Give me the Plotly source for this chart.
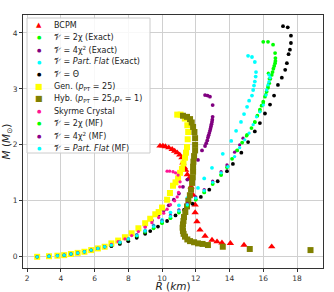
import plotly.graph_objects as go

# shared crust
crust_R = [2.6, 3.3, 3.8, 4.2, 4.6, 5.0, 5.4, 5.8, 6.2, 6.6]
crust_M = [0.0, 0.01, 0.02, 0.03, 0.05, 0.07, 0.09, 0.12, 0.15, 0.18]

bcpm_R = [9.88, 10.05, 10.2, 10.4, 10.6, 10.75, 10.9, 11.05, 11.18, 11.24, 11.32, 11.4, 11.5, 11.6, 11.72, 11.85,
          11.96, 11.96, 12.07, 12.25, 12.55, 12.96, 13.26, 13.55, 14.05, 14.86, 16.5]
bcpm_M = [1.98, 1.98, 1.97, 1.95, 1.92, 1.89, 1.86, 1.82, 1.77, 1.68, 1.6, 1.55, 1.47, 1.4, 1.25, 1.1,
          0.93, 0.79, 0.63, 0.48, 0.37, 0.3, 0.27, 0.25, 0.24, 0.21, 0.18]

chi2_R = [7.0, 7.5, 8.0, 8.5, 9.0, 9.5, 10.0, 10.5, 11.0, 11.5, 12.0, 12.5, 13.0, 13.5, 13.85, 14.15, 14.45, 14.75,
          15.04, 15.3, 15.5, 15.65, 15.8, 15.9, 16.0, 16.1, 16.2, 16.28, 16.35, 16.42, 16.5, 16.55, 16.6, 16.65,
          16.7, 16.72, 16.72, 16.7, 16.58, 16.28, 16.0]
chi2_M = [0.2, 0.25, 0.3, 0.36, 0.43, 0.51, 0.6, 0.69, 0.79, 0.9, 1.02, 1.15, 1.3, 1.46, 1.6, 1.75, 1.9, 2.04,
          2.18, 2.3, 2.41, 2.52, 2.63, 2.7, 2.77, 2.86, 2.95, 3.02, 3.1, 3.18, 3.25, 3.3, 3.36, 3.41,
          3.46, 3.5, 3.55, 3.64, 3.79, 3.84, 3.84]

chisq_R = [7.0, 7.4, 7.8, 8.2, 8.6, 9.0, 9.4, 9.8, 10.1, 10.4, 10.7, 11.0, 11.24, 11.5, 11.8, 12.13, 12.37, 12.55,
           12.62, 12.68, 12.72, 12.76, 12.8, 12.84, 12.87, 12.9, 12.93, 12.96, 12.98, 13.0, 13.0, 12.84, 12.7, 12.55]
chisq_M = [0.23, 0.28, 0.34, 0.41, 0.48, 0.56, 0.65, 0.75, 0.83, 0.92, 1.02, 1.13, 1.25, 1.38, 1.55, 1.73, 1.9, 1.98,
           2.03, 2.08, 2.13, 2.17, 2.21, 2.25, 2.29, 2.33, 2.37, 2.41, 2.45, 2.5, 2.71, 2.86, 2.88, 2.89]

flat_R = [7.0, 7.5, 8.0, 8.5, 9.0, 9.5, 10.0, 10.5, 11.0, 11.5, 12.13, 12.5, 12.96, 13.6, 14.1, 14.39, 14.68,
          14.86, 15.04, 15.16, 15.33, 15.4, 15.45, 15.5, 15.55, 15.57, 15.5, 15.33, 15.1]
flat_M = [0.21, 0.26, 0.32, 0.39, 0.47, 0.56, 0.66, 0.79, 0.92, 1.05, 1.23, 1.4, 1.59, 1.84, 2.07, 2.25, 2.41,
          2.55, 2.68, 2.79, 2.88, 2.98, 3.06, 3.13, 3.22, 3.3, 3.48, 3.57, 3.59]

theta_R = [7.0, 7.5, 8.0, 8.5, 9.0, 9.3, 9.76, 10.3, 10.8, 11.3, 11.8, 12.3, 12.8, 13.3, 13.85, 14.2, 14.7, 15.1,
           15.5, 15.8, 16.1, 16.4, 16.64, 16.87, 17.1, 17.3, 17.4, 17.5, 17.58, 17.64, 17.64, 17.45, 17.17]
theta_M = [0.19, 0.23, 0.28, 0.34, 0.41, 0.46, 0.54, 0.64, 0.74, 0.84, 0.95, 1.07, 1.2, 1.35, 1.53, 1.66, 1.86, 2.05,
           2.24, 2.39, 2.56, 2.72, 2.88, 3.07, 3.2, 3.34, 3.46, 3.62, 3.7, 3.82, 3.95, 4.1, 4.12]

gen_R = [7.0, 7.4, 7.8, 8.2, 8.6, 9.0, 9.3, 9.6, 9.8, 10.0, 10.3, 10.47, 10.65, 10.8, 10.95, 11.07, 11.18, 11.27,
         11.36, 11.42, 11.48, 11.52, 11.55, 11.5, 11.35, 11.1, 10.9]
gen_M = [0.24, 0.29, 0.35, 0.42, 0.51, 0.6, 0.68, 0.76, 0.8, 0.88, 1.02, 1.14, 1.27, 1.33, 1.4, 1.5, 1.57, 1.67,
         1.77, 1.86, 1.96, 2.1, 2.23, 2.35, 2.47, 2.54, 2.54]

hyb_R = [18.8, 15.2, 13.6, 12.72, 12.4, 12.13, 11.9, 11.66, 11.5, 11.36, 11.28, 11.24, 11.22, 11.24, 11.27, 11.3,
         11.38, 11.48, 11.56, 11.65, 11.72, 11.78, 11.82, 11.84, 11.84, 11.86, 11.9, 11.96, 11.96, 11.96, 11.92,
         11.84, 11.76, 11.66, 11.48, 11.24]
hyb_M = [0.12, 0.14, 0.18, 0.21, 0.23, 0.24, 0.26, 0.28, 0.31, 0.36, 0.41, 0.46, 0.52, 0.58, 0.64, 0.71,
         0.8, 0.9, 1.0, 1.1, 1.2, 1.32, 1.42, 1.52, 1.61, 1.7, 1.8, 1.9, 2.0, 2.12, 2.23,
         2.32, 2.4, 2.46, 2.5, 2.52]

sky_R = [7.0, 7.4, 7.8, 8.2, 8.6, 9.0, 9.4, 9.8, 10.1, 10.3, 10.5, 10.75, 10.9, 10.98, 11.05, 11.07, 10.95, 10.8,
         10.65, 10.45, 10.3]
sky_M = [0.22, 0.27, 0.32, 0.38, 0.45, 0.53, 0.61, 0.7, 0.78, 0.85, 0.93, 1.0, 1.07, 1.15, 1.25, 1.34, 1.46, 1.5,
         1.52, 1.53, 1.53]

chi2mf_R = [7.0, 7.5, 8.0, 8.5, 9.0, 9.5, 10.0, 10.5, 11.0, 11.5, 12.0, 12.5, 13.0, 13.5, 13.9, 14.45, 15.0, 15.5,
            15.8, 16.0, 16.15, 16.28, 16.35, 16.3]
chi2mf_M = [0.2, 0.25, 0.31, 0.37, 0.44, 0.52, 0.61, 0.7, 0.8, 0.91, 1.03, 1.16, 1.31, 1.47, 1.62, 1.9, 2.16, 2.4,
            2.6, 2.75, 2.9, 3.05, 3.18, 3.28]

chisqmf_R = [7.0, 7.5, 8.0, 8.5, 9.0, 9.5, 10.0, 10.5, 11.0, 11.5, 12.0, 12.5, 13.0, 13.5, 13.85, 14.3, 14.6, 14.8]
chisqmf_M = [0.21, 0.26, 0.32, 0.39, 0.46, 0.55, 0.64, 0.74, 0.84, 0.95, 1.07, 1.2, 1.35, 1.52, 1.64, 1.87, 2.0, 2.12]

flatmf_R = [7.0, 7.5, 8.0, 8.5, 9.0, 9.5, 10.0, 10.5, 11.0, 11.5, 12.0, 12.5, 13.0, 13.5, 13.9, 14.3, 14.6, 14.9,
            15.16, 15.4, 15.6, 15.8, 16.0, 16.16, 16.2, 16.28, 16.34, 16.4, 16.34]
flatmf_M = [0.21, 0.26, 0.32, 0.38, 0.46, 0.54, 0.63, 0.72, 0.82, 0.93, 1.05, 1.18, 1.33, 1.5, 1.61, 1.79, 1.95, 2.09,
            2.21, 2.36, 2.5, 2.59, 2.71, 2.89, 2.98, 3.07, 3.13, 3.2, 3.25]

V = "𝒱"
# name, R, M, colour, symbol, size, shares crust, legend glyph, glyph size
series = [
    ("BCPM", bcpm_R, bcpm_M, "#ff0000", "triangle-up", 6.5, False, "▲", 7),
    (V + " = 2χ (Exact)", chi2_R, chi2_M, "#00ff00", "circle", 3.8, True, "●", 5),
    (V + " = 4χ<sup>2</sup> (Exact)", chisq_R, chisq_M, "#800080", "circle", 3.8, True, "●", 5),
    (V + " = <i>Part. Flat</i> (Exact)", flat_R, flat_M, "#00ffff", "circle", 3.8, True, "●", 5),
    (V + " = Θ", theta_R, theta_M, "#000000", "circle", 3.8, True, "●", 5),
    ("Gen. (<i>p</i><sub>PT</sub> = 25)", gen_R, gen_M, "#ffff00", "square", 6, True, "■", 8),
    ("Hyb. (<i>p</i><sub>PT</sub> = 25,<i>p</i><sub>*</sub> = 1)", hyb_R, hyb_M, "#808000", "square", 6, False, "■", 8),
    ("Skyrme Crystal", sky_R, sky_M, "#ff1493", "circle", 3.3, True, "●", 5),
    (V + " = 2χ (MF)", chi2mf_R, chi2mf_M, "#00ff00", "circle", 3.3, True, "●", 5),
    (V + " = 4χ<sup>2</sup> (MF)", chisqmf_R, chisqmf_M, "#8b008b", "circle", 3.3, True, "●", 5),
    (V + " = <i>Part. Flat</i> (MF)", flatmf_R, flatmf_M, "#00ffff", "circle", 3.3, True, "●", 5),
]

fig = go.Figure()
for name, R, M, col, sym, sz, use_crust, g, gs in series:
    xs = (crust_R + R) if use_crust else R
    ys = (crust_M + M) if use_crust else M
    fig.add_trace(go.Scatter(x=xs, y=ys, mode="markers", name=name, showlegend=False,
                             marker=dict(color=col, symbol=sym, size=sz, line=dict(width=0))))

# plot area in page pixels
PL, PR, PT, PB = 23, 323, 15, 268
W, H = 334, 292

def px2paper(px, py):
    return (px - PL) / (PR - PL), (PB - py) / (PB - PT)

# hand-made compact legend (matplotlib style)
x0, y0 = px2paper(27, 18)
x1, y1 = px2paper(150, 153)
fig.add_shape(type="rect", xref="paper", yref="paper", x0=x0, y0=y1, x1=x1, y1=y0,
              layer="above", fillcolor="rgba(255,255,255,0.85)", line=dict(color="#cccccc", width=1))
for i, (name, R, M, col, sym, sz, use_crust, g, gs) in enumerate(series):
    py = 25 + 12.3 * i
    mx, my = px2paper(39, py)
    tx, ty = px2paper(52, py)
    fig.add_annotation(xref="paper", yref="paper", x=mx, y=my, text=g, showarrow=False,
                       xanchor="center", yanchor="middle", font=dict(size=gs, color=col))
    fig.add_annotation(xref="paper", yref="paper", x=tx, y=ty, text=name, showarrow=False,
                       xanchor="left", yanchor="middle", font=dict(size=8, color="#222"))

axis_common = dict(showgrid=True, gridcolor="#d0d0d0", gridwidth=1, zeroline=False,
                   showline=True, linecolor="#333333", linewidth=1, mirror=True,
                   ticks="outside", ticklen=3, tickcolor="#333333",
                   tickfont=dict(size=7.5, color="#333333"))
fig.update_xaxes(range=[1.76, 19.54], tickvals=[2, 4, 6, 8, 10, 12, 14, 16, 18],
                 title=dict(text="<i>R</i> (<i>km</i>)", font=dict(size=10.5, color="#222"), standoff=7),
                 **axis_common)
fig.update_yaxes(range=[-0.2, 4.32], tickvals=[0, 1, 2, 3, 4],
                 title=dict(text="<i>M</i> (<i>M</i><sub>⊙</sub>)", font=dict(size=10.5, color="#222"), standoff=2),
                 **axis_common)
fig.update_layout(
    width=W, height=H,
    margin=dict(l=PL, r=W - PR, t=PT, b=H - PB, autoexpand=False),
    plot_bgcolor="white", paper_bgcolor="white",
    font=dict(family="DejaVu Sans", color="#222"),
    showlegend=False,
)
fig.write_html("out.html", config={"displayModeBar": False},
               post_script="document.body.style.margin='0';document.body.style.overflow='hidden';")
